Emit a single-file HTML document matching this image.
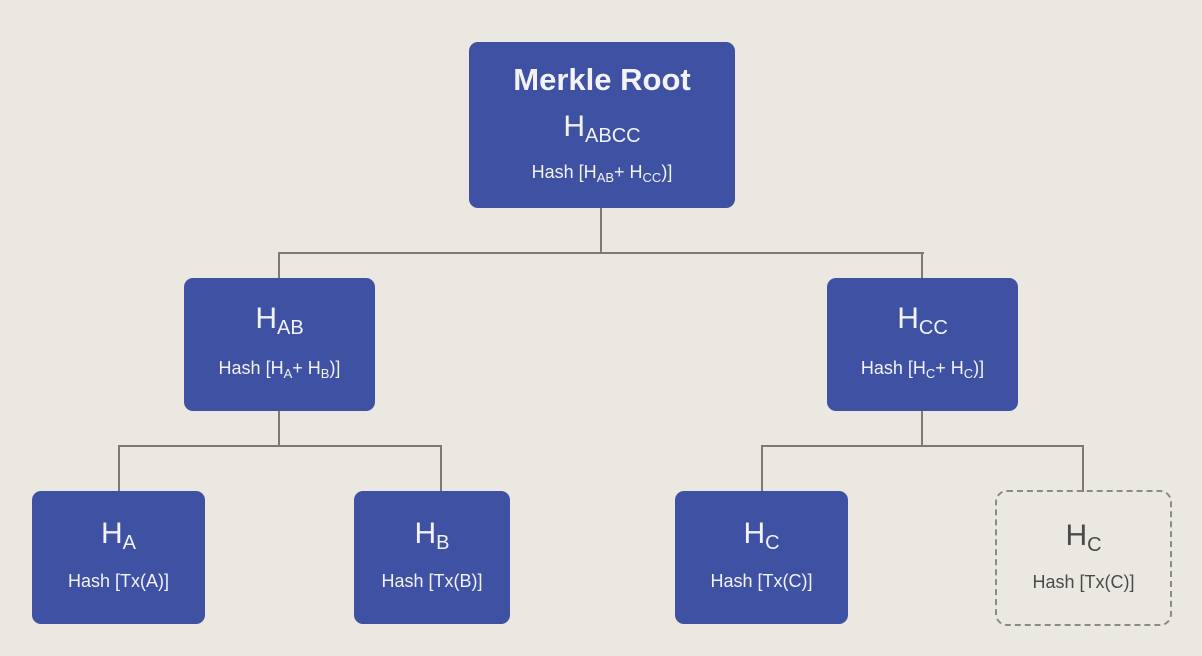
<!DOCTYPE html>
<html><head><style>
body{margin:0;width:1202px;height:656px;background:#ebe8e2;position:relative;overflow:hidden;font-family:"Liberation Sans",sans-serif}
.b{position:absolute;background:#3f51a2;border-radius:9px;color:#f2f2f7;text-align:center}
.d{position:absolute;border:2.5px dashed #8a8a8a;border-radius:12px;color:#4a4a4a;text-align:center;box-sizing:border-box}
.t{position:absolute;left:0;right:0;white-space:nowrap}
.h{font-size:30px}
.h sub{font-size:20px;vertical-align:-6px}
.s{font-size:18px}
.s sub{font-size:13px;vertical-align:-4px}
.l{position:absolute;background:#7d7a73}
</style></head><body>
<div class="l" style="left:600px;top:208px;width:2px;height:46px"></div>
<div class="l" style="left:278px;top:252px;width:646px;height:2px"></div>
<div class="l" style="left:278px;top:252px;width:2px;height:27px"></div>
<div class="l" style="left:921px;top:252px;width:2px;height:27px"></div>
<div class="l" style="left:278px;top:410px;width:2px;height:37px"></div>
<div class="l" style="left:118px;top:445px;width:324px;height:2px"></div>
<div class="l" style="left:118px;top:445px;width:2px;height:47px"></div>
<div class="l" style="left:440px;top:445px;width:2px;height:47px"></div>
<div class="l" style="left:921px;top:410px;width:2px;height:37px"></div>
<div class="l" style="left:761px;top:445px;width:323px;height:2px"></div>
<div class="l" style="left:761px;top:445px;width:2px;height:47px"></div>
<div class="l" style="left:1082px;top:445px;width:2px;height:47px"></div>

<div class="b" style="left:469px;top:42px;width:266px;height:166px">
<div class="t" style="top:20px;font-size:31px;font-weight:bold">Merkle Root</div>
<div class="t h" style="top:68px">H<sub>ABCC</sub></div>
<div class="t s" style="top:120px">Hash [H<sub>AB</sub>+ H<sub>CC</sub>)]</div>
</div>

<div class="b" style="left:184px;top:278px;width:191px;height:133px">
<div class="t h" style="top:24px">H<sub>AB</sub></div>
<div class="t s" style="top:80px">Hash [H<sub>A</sub>+ H<sub>B</sub>)]</div>
</div>
<div class="b" style="left:827px;top:278px;width:191px;height:133px">
<div class="t h" style="top:24px">H<sub>CC</sub></div>
<div class="t s" style="top:80px">Hash [H<sub>C</sub>+ H<sub>C</sub>)]</div>
</div>

<div class="b" style="left:32px;top:491px;width:173px;height:133px">
<div class="t h" style="top:26px">H<sub>A</sub></div>
<div class="t s" style="top:80px">Hash [Tx(A)]</div>
</div>
<div class="b" style="left:354px;top:491px;width:156px;height:133px">
<div class="t h" style="top:26px">H<sub>B</sub></div>
<div class="t s" style="top:80px">Hash [Tx(B)]</div>
</div>
<div class="b" style="left:675px;top:491px;width:173px;height:133px">
<div class="t h" style="top:26px">H<sub>C</sub></div>
<div class="t s" style="top:80px">Hash [Tx(C)]</div>
</div>
<div class="d" style="left:995px;top:490px;width:177px;height:136px">
<div class="t h" style="top:27px">H<sub>C</sub></div>
<div class="t s" style="top:80px">Hash [Tx(C)]</div>
</div>
</body></html>
